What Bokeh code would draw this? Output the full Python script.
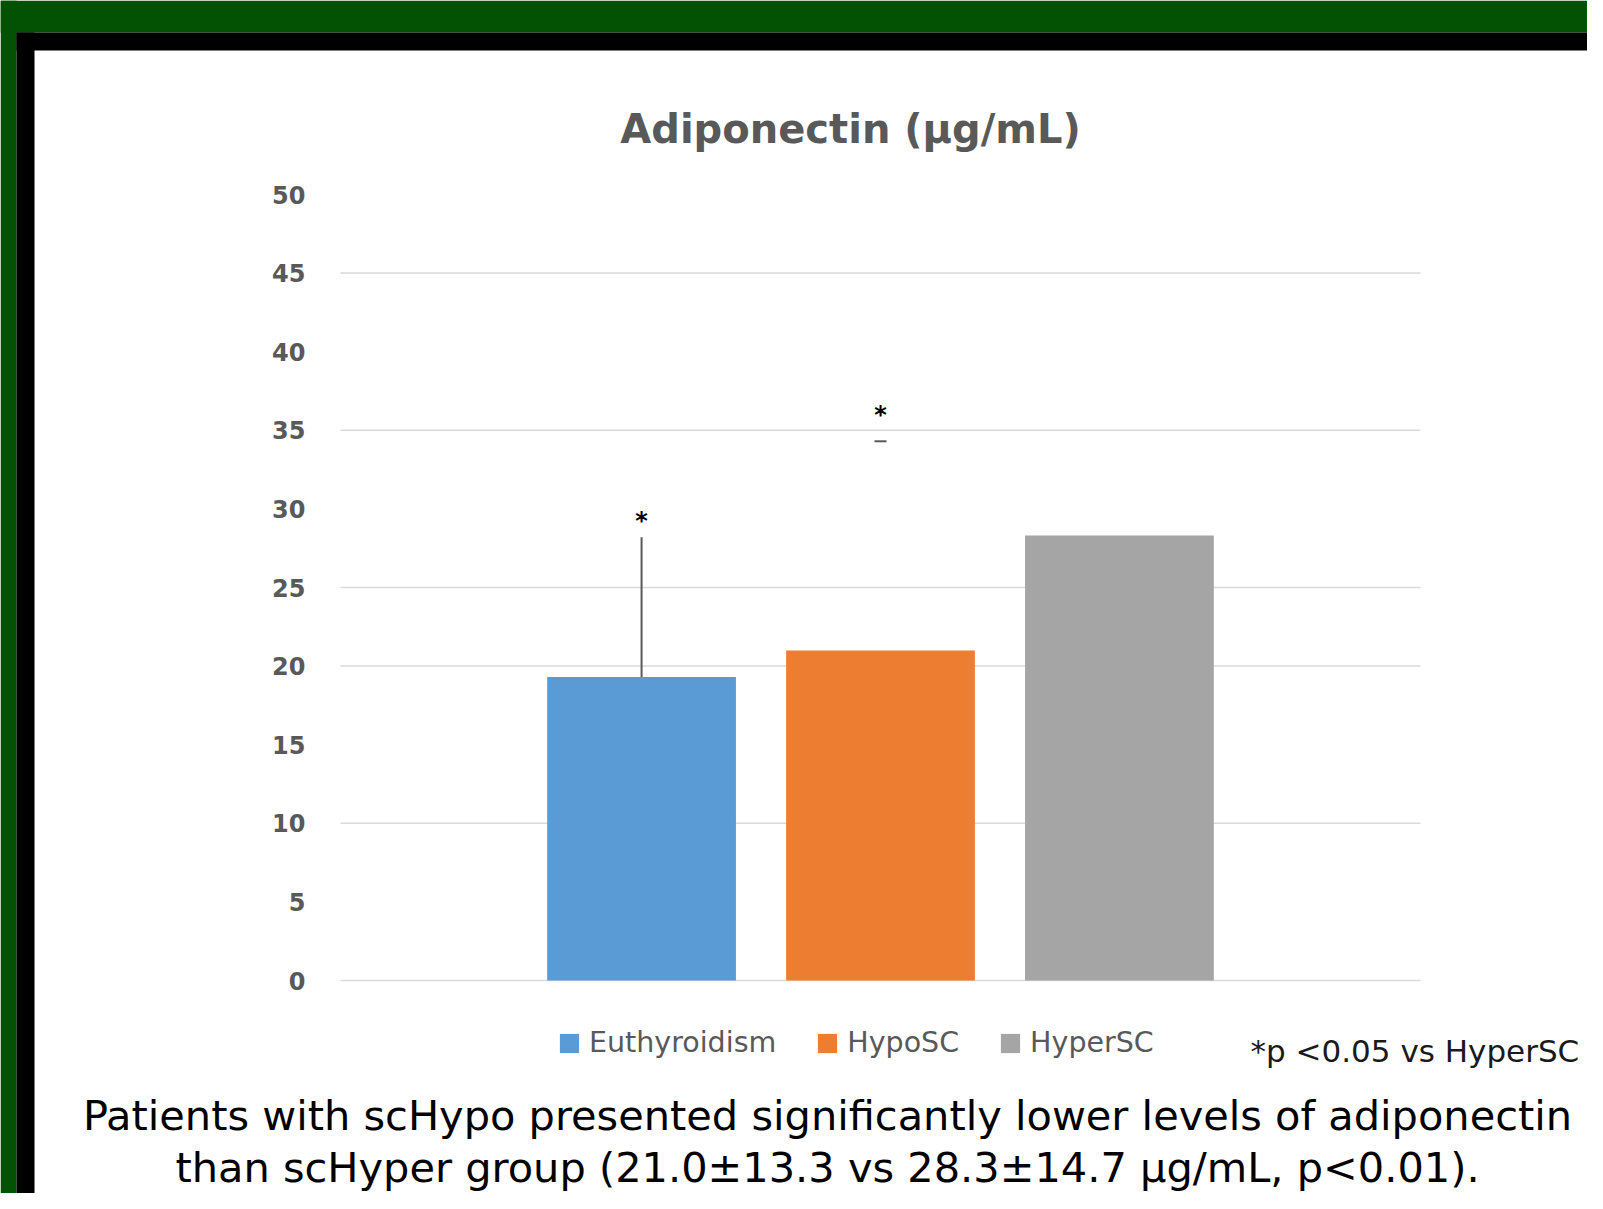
from bokeh.plotting import figure
from bokeh.models import (Range1d, FixedTicker, Label, Legend, LegendItem,
                          BoxAnnotation, ColumnDataSource)
from bokeh.core.properties import value
from bokeh.embed import file_html
from bokeh.resources import INLINE

# ---------------- data ----------------
groups = ["Euthyroidism", "HypoSC", "HyperSC"]
means = [19.3, 21.0, 28.3]
bar_colors = ["#5b9bd5", "#ed7d31", "#a5a5a5"]
eu_err_top = [28.2]          # visible upper error stem (Euthyroidism)
hypo_err_top = [34.3]        # visible upper error cap (HypoSC)
star_x = [0, 1]
star_y = [29.5, 36.2]
y_ticks = [0, 5, 10, 15, 20, 25, 30, 35, 40, 45, 50]
grid_levels = [0, 10, 20, 25, 35, 45]
title_text = "Adiponectin (µg/mL)"
footnote_text = "*p <0.05 vs HyperSC"
caption_lines = ["Patients with scHypo presented significantly lower levels of adiponectin",
                 "than scHyper group (21.0±13.3 vs 28.3±14.7 µg/mL, p<0.01)."]

# ---------------- layout (pixels) ----------------
W, H = 1587, 1193
PL, PR, PT, PB = 340, 1420, 194, 980      # plot area inside canvas
XLO, XHI = -1.26, 3.26                     # data x at plot area edges
YLO, YHI = 0, 50
GREEN = "#035203"

sx = (PR - PL) / (XHI - XLO)
sy = (PB - PT) / (YHI - YLO)
x_range = Range1d(XLO - PL / sx, XHI + (W - PR) / sx)
y_range = Range1d(YLO - (H - PB) / sy, YHI + PT / sy)

p = figure(width=W, height=H, output_backend="svg", toolbar_location=None,
           x_range=x_range, y_range=y_range, min_border=0)
p.title.visible = False
p.outline_line_color = None
p.background_fill_color = "white"
p.border_fill_color = "white"
p.xgrid.visible = False
p.ygrid.visible = False
p.xaxis.visible = False

# y axis drawn at the left edge of the plot area
p.yaxis.fixed_location = XLO
p.yaxis.ticker = FixedTicker(ticks=y_ticks)
p.yaxis.axis_line_color = None
p.yaxis.major_tick_line_color = None
p.yaxis.minor_tick_line_color = None
p.yaxis.major_label_standoff = 29
p.yaxis.major_label_text_font = "DejaVu Sans"
p.yaxis.major_label_text_font_style = "bold"
p.yaxis.major_label_text_font_size = "24px"
p.yaxis.major_label_text_color = "#595959"

# horizontal gridlines across the plot area
p.segment(x0=[XLO] * len(grid_levels), y0=grid_levels,
          x1=[XHI] * len(grid_levels), y1=grid_levels,
          line_color="#d9d9d9", line_width=1.5)

# bars
src = ColumnDataSource(dict(x=list(range(len(groups))), top=means,
                            color=bar_colors, group=groups))
bars = p.vbar(x="x", top="top", width=0.79, fill_color="color",
              line_color=None, source=src)

# error marks
p.segment(x0=[0], y0=[means[0]], x1=[0], y1=eu_err_top,
          line_color="#595959", line_width=2)
p.scatter(x=[1], y=hypo_err_top, marker="dash", size=12,
          line_color="#595959", line_width=2)

# significance stars
p.text(x=star_x, y=star_y, text=["*"] * len(star_x),
       text_font=value("DejaVu Sans"), text_font_style="bold",
       text_font_size="24px", text_align="center", text_baseline="middle",
       y_offset=4, text_color="black")

# legend
items = [LegendItem(label=g, renderers=[bars], index=i) for i, g in enumerate(groups)]
legend = Legend(items=items, orientation="horizontal", location=(557, 134),
                glyph_width=24, glyph_height=24, label_height=24,
                label_standoff=8, spacing=39,
                padding=0, margin=0, border_line_color=None,
                background_fill_alpha=0,
                label_text_font="DejaVu Sans", label_text_font_size="28.5px",
                label_text_color="#595959")
p.add_layout(legend)

# texts (screen units: from the canvas bottom-left)
p.add_layout(Label(x=850, y=H - 128, x_units="screen", y_units="screen",
                   text=title_text, text_align="center",
                   text_baseline="alphabetic", text_font="DejaVu Sans",
                   text_font_style="bold", text_font_size="40px",
                   text_color="#595959"))
p.add_layout(Label(x=1250, y=H - 1050, x_units="screen", y_units="screen",
                   text=footnote_text, text_align="left",
                   text_baseline="alphabetic", text_font="DejaVu Sans",
                   text_font_size="31px", text_color="#1a1a1a"))
for i, line in enumerate(caption_lines):
    p.add_layout(Label(x=827, y=78 - 52 * i, x_units="screen", y_units="screen",
                       text=line, text_align="center",
                       text_baseline="alphabetic", text_font="DejaVu Sans",
                       text_font_size="41.5px", text_color="black"))

# frame border (green / black)
for l, r, t, b, c in [(0, W, 0, 32, GREEN), (0, 16, 0, H, GREEN),
                      (16, W, 32, 50, "black"), (16, 34, 32, H, "black")]:
    p.add_layout(BoxAnnotation(left=l, right=r, top=t, bottom=b,
                               left_units="canvas", right_units="canvas",
                               top_units="canvas", bottom_units="canvas",
                               fill_color=c, fill_alpha=1, line_color=None,
                               level="overlay"))

open("out.html", "w").write(file_html(p, INLINE))
